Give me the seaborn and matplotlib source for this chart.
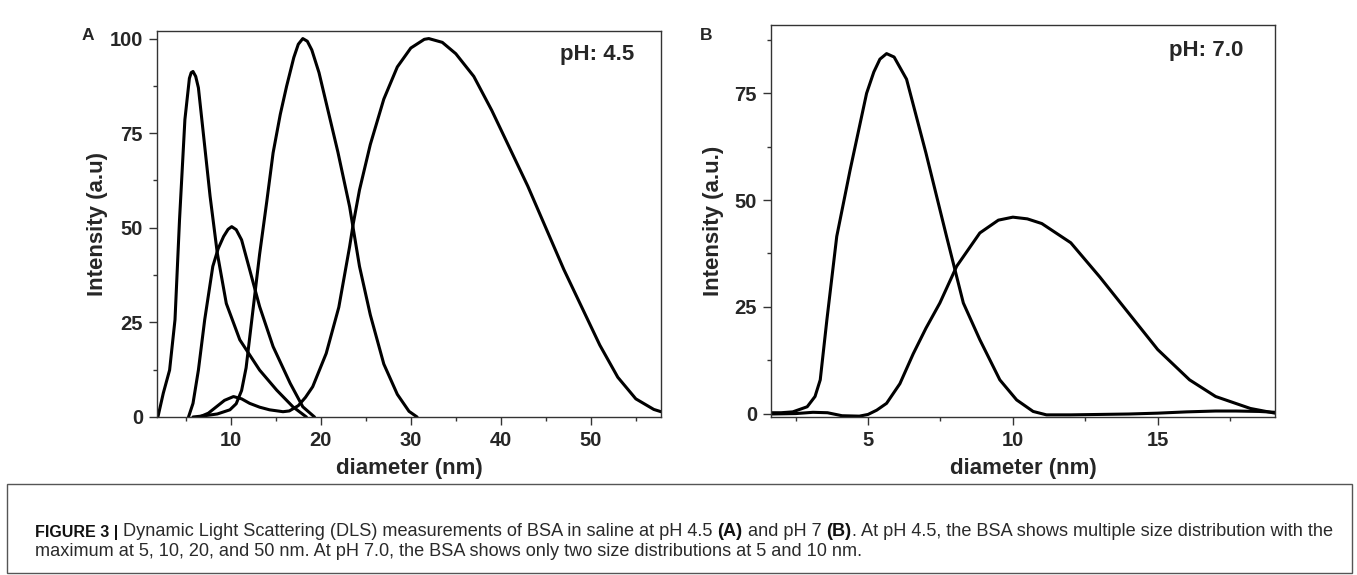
import seaborn as sns
import matplotlib.pyplot as plt
from matplotlib.patches import Rectangle
from matplotlib.ticker import MultipleLocator

# ---- panel A: pH 4.5, size distributions ----
a1_x = [1.9, 2.5, 3.2, 3.8, 4.3, 4.9, 5.4, 5.6, 5.8, 6.1, 6.4, 6.9, 7.7, 8.5, 9.5, 11.0,
        13.2, 15.1, 16.9, 18.4]
a1_y = [0, 6.3, 12.4, 25.7, 52, 78.6, 89.5, 91, 91.3, 90, 87, 76, 58.3, 43.3, 30, 20.4,
        12.4, 7.1, 2.7, 0]

a2_x = [5.3, 5.8, 6.4, 7.1, 8.0, 8.6, 9.2, 9.7, 10.1, 10.6, 11.2, 12.1, 13.2, 14.7, 16.6,
        18.0, 19.3]
a2_y = [0, 3.6, 12.4, 25.7, 39.8, 44.5, 47.7, 49.6, 50.3, 49.5, 46.8, 38.9, 29.2, 18.6, 8.9,
        2.7, 0]

a3_x = [5.8, 7.0, 8.5, 9.9, 10.6, 11.2, 11.7, 12.4, 13.2, 14.0, 14.7, 15.5, 16.2, 17.0,
        17.5, 18.0, 18.5, 19.0, 19.8, 20.6, 21.9, 23.2, 24.3, 25.5, 27.0, 28.5, 29.8, 30.7]
a3_y = [0, 0.3, 0.8, 1.9, 3.5, 7, 13, 27, 43, 57, 69.8, 80, 87.4, 95,
        98.5, 100, 99.3, 97, 91, 83, 70, 55.6, 39.8, 27, 14, 6, 1.5, 0]

a4_x = [6.5, 7.5, 8.4, 9.3, 10.3, 11.2, 12.1, 13.2, 14.3, 15.8, 16.5, 17.5, 18.3, 19.1,
        20.6, 22.0, 23.2, 23.6, 24.3, 25.5, 27.0, 28.5, 30.0, 31.5, 32.0, 33.5, 35.0,
        37.0, 39.0, 41.0, 43.0, 45.0, 47.0, 49.0, 51.0, 53.0, 55.0, 57.0, 57.8]
a4_y = [0, 1, 2.7, 4.4, 5.4, 4.8, 3.6, 2.6, 1.9, 1.4, 1.6, 3, 5.2, 8,
        16.8, 29, 45, 51, 60, 72, 84, 92.5, 97.5, 99.8, 100, 99, 96,
        90, 81, 71, 61, 50, 39, 29, 19, 10.5, 4.8, 2, 1.4]

# ---- panel B: pH 7.0, two size distributions ----
b1_x = [1.65, 2.0, 2.4, 2.9, 3.17, 3.35, 3.58, 3.92, 4.38, 4.95, 5.2, 5.41, 5.64, 5.9, 6.33,
        7.0, 7.71, 8.29, 8.86, 9.55, 10.13, 10.7, 11.16, 12.0, 13.0, 14.0, 15.0, 16.0,
        17.0, 17.7, 18.5, 19.05]
b1_y = [0.2, 0.2, 0.4, 1.6, 4, 7.9, 22, 41.5, 57, 75, 80, 83, 84.3, 83.5, 78.3,
        61, 41.5, 25.9, 17.3, 7.9, 3.2, 0.5, -0.3, -0.3, -0.2, -0.1, 0.1, 0.4,
        0.6, 0.6, 0.5, 0.3]

b2_x = [1.65, 2.5, 3.1, 3.6, 4.1, 4.7, 5.0, 5.3, 5.64, 6.1, 6.56, 7.0, 7.48, 8.06,
        8.86, 9.5, 10.0, 10.5, 11.0, 12.0, 13.0, 14.0, 15.0, 16.1, 17.0, 18.2, 19.05]
b2_y = [-0.1, 0, 0.3, 0.2, -0.5, -0.6, -0.2, 0.8, 2.4, 7, 14, 20, 25.9, 34.5,
        42.3, 45.3, 46, 45.6, 44.5, 40, 32, 23.5, 15, 7.9, 4, 1.2, 0.1]

curves_a = [(a1_x, a1_y), (a2_x, a2_y), (a3_x, a3_y), (a4_x, a4_y)]
curves_b = [(b1_x, b1_y), (b2_x, b2_y)]

caption_1 = [("FIGURE 3 |", "bold"),
             (" Dynamic Light Scattering (DLS) measurements of BSA in saline at pH 4.5 ", "normal"),
             ("(A)", "bold"), (" and pH 7 ", "normal"), ("(B)", "bold"),
             (". At pH 4.5, the BSA shows multiple size distribution with the", "normal")]
caption_2 = ("maximum at 5, 10, 20, and 50 nm. At pH 7.0, the BSA shows only two size "
             "distributions at 5 and 10 nm.")

sns.set_style('ticks')
plt.rcParams['font.family'] = ['Liberation Sans', 'DejaVu Sans']

W, H = 1357, 575
fig = plt.figure(figsize=(W / 100, H / 100), dpi=100)


def px_axes(l, t, r, b):
    return fig.add_axes([l / W, 1 - b / H, (r - l) / W, (b - t) / H])


def style(ax, xlim, ylim, xmaj, ymaj, ylabel, ypad):
    ax.set_xlim(*xlim)
    ax.set_ylim(*ylim)
    ax.xaxis.set_major_locator(MultipleLocator(xmaj))
    ax.xaxis.set_minor_locator(MultipleLocator(xmaj / 2))
    ax.yaxis.set_major_locator(MultipleLocator(ymaj))
    ax.yaxis.set_minor_locator(MultipleLocator(ymaj / 2))
    ax.tick_params(which='major', direction='out', length=6, width=1, labelsize=14.5,
                   color='#333333', pad=4)
    ax.tick_params(which='minor', direction='out', length=3, width=1, color='#333333')
    for lbl in ax.get_xticklabels() + ax.get_yticklabels():
        lbl.set_fontweight('bold')
    for sp in ax.spines.values():
        sp.set_visible(True)
        sp.set_linewidth(1)
        sp.set_color('#333333')
    ax.set_xlabel('diameter (nm)', fontsize=16, fontweight='bold', labelpad=6)
    ax.set_ylabel(ylabel, fontsize=16, fontweight='bold', labelpad=ypad)


ax_a = px_axes(157, 31, 661, 417)
for xs, ys in curves_a:
    sns.lineplot(x=xs, y=ys, ax=ax_a, color='black', linewidth=2.2)
style(ax_a, (1.8, 57.8), (0, 102), 10, 25, 'Intensity (a.u)', 1)
ax_a.text(0.8, 0.94, 'pH: 4.5', transform=ax_a.transAxes, fontsize=16, fontweight='bold',
          va='center', ha='left')

ax_b = px_axes(771, 25, 1275, 417)
for xs, ys in curves_b:
    sns.lineplot(x=xs, y=ys, ax=ax_b, color='black', linewidth=2.2)
style(ax_b, (1.65, 19.05), (-0.8, 91), 5, 25, 'Intensity (a.u.)', 8)
ax_b.text(0.79, 0.935, 'pH: 7.0', transform=ax_b.transAxes, fontsize=16, fontweight='bold',
          va='center', ha='left')

fig.text(88 / W, 1 - 35 / H, 'A', fontsize=12.5, fontweight='bold', ha='center', va='center')
fig.text(706 / W, 1 - 35 / H, 'B', fontsize=12.5, fontweight='bold', ha='center', va='center')

# caption box
fig.patches.append(Rectangle((7 / W, 2 / H), (1352 - 7) / W, (573 - 484) / H,
                             transform=fig.transFigure, fill=False, edgecolor='#555555',
                             linewidth=1))

renderer = fig.canvas.get_renderer()
x0 = 35 / W
for s, w in caption_1:
    size = 11.5 if s.startswith('FIGURE') else 13.1
    col = '#111111' if w == 'bold' else '#2a2a2a'
    t = fig.text(x0, 1 - 532 / H, s, fontsize=size, fontweight=w, color=col,
                 ha='left', va='center')
    bb = t.get_window_extent(renderer)
    x0 = bb.x1 / W
fig.text(35 / W, 1 - 552 / H, caption_2, fontsize=13.1, color='#2a2a2a', ha='left',
         va='center')

fig.savefig('out.png', dpi=100)
